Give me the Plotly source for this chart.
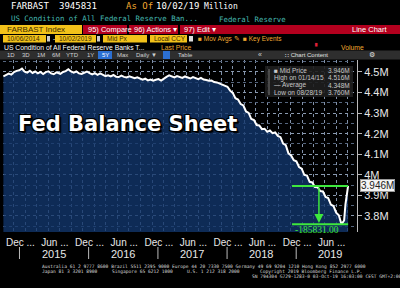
import plotly.graph_objects as go

# ---------------- data (values in "M" = million of $ millions) ----------------
dates = [
    "2014-10-08","2014-10-22","2014-11-05","2014-11-19","2014-12-03","2014-12-17","2014-12-31",
    "2015-01-14","2015-01-28","2015-02-11","2015-02-25","2015-03-11","2015-03-25","2015-04-08",
    "2015-04-22","2015-05-06","2015-05-20","2015-06-03","2015-06-17","2015-07-01","2015-07-15",
    "2015-08-05","2015-08-19","2015-09-02","2015-09-16","2015-09-30","2015-10-14","2015-10-28",
    "2015-11-11","2015-11-25","2015-12-09","2015-12-23","2016-01-06","2016-01-20","2016-02-03",
    "2016-02-17","2016-03-02","2016-03-16","2016-03-30","2016-04-13","2016-04-27","2016-05-11",
    "2016-05-25","2016-06-08","2016-06-22","2016-07-06","2016-07-20","2016-08-03","2016-08-17",
    "2016-08-31","2016-09-14","2016-09-28","2016-10-12","2016-10-26","2016-11-09","2016-11-23",
    "2016-12-07","2016-12-21","2017-01-04","2017-01-18","2017-02-01","2017-02-15","2017-03-01",
    "2017-03-15","2017-03-29","2017-04-12","2017-04-26","2017-05-10","2017-05-24","2017-06-07",
    "2017-06-21","2017-07-05","2017-07-19","2017-08-02","2017-08-16","2017-08-30","2017-09-13",
    "2017-09-27","2017-10-11","2017-10-25","2017-11-08","2017-11-22","2017-12-06","2017-12-20",
    "2018-01-03","2018-01-17","2018-01-31","2018-02-14","2018-02-28","2018-03-14","2018-03-28",
    "2018-04-11","2018-04-25","2018-05-09","2018-05-23","2018-06-06","2018-06-20","2018-07-04",
    "2018-07-18","2018-08-01","2018-08-15","2018-08-29","2018-09-12","2018-09-26","2018-10-10",
    "2018-10-24","2018-11-07","2018-11-21","2018-12-05","2018-12-19","2019-01-02","2019-01-16",
    "2019-01-30","2019-02-13","2019-02-27","2019-03-13","2019-03-27","2019-04-10","2019-04-24",
    "2019-05-08","2019-05-22","2019-06-05","2019-06-19","2019-07-03","2019-07-17","2019-07-31",
    "2019-08-14","2019-08-28","2019-09-11","2019-09-18","2019-09-25","2019-10-02",
]
values = [
    4.478,4.486,4.492,4.487,4.499,4.505,4.508,
    4.516,4.501,4.497,4.506,4.495,4.502,4.493,
    4.500,4.490,4.499,4.503,4.493,4.489,4.498,
    4.491,4.500,4.504,4.513,4.502,4.496,4.502,
    4.493,4.490,4.498,4.502,4.494,4.488,4.494,
    4.486,4.493,4.485,4.480,4.484,4.478,4.485,
    4.477,4.475,4.482,4.476,4.473,4.479,4.474,
    4.470,4.474,4.467,4.462,4.467,4.459,4.463,
    4.457,4.462,4.465,4.458,4.469,4.476,4.483,
    4.477,4.473,4.480,4.475,4.471,4.478,4.472,
    4.468,4.475,4.469,4.465,4.471,4.463,4.461,
    4.457,4.458,4.451,4.449,4.443,4.441,4.434,
    4.428,4.409,4.398,4.372,4.366,4.344,4.337,
    4.308,4.301,4.271,4.266,4.242,4.240,4.222,
    4.224,4.209,4.215,4.202,4.206,4.189,4.183,
    4.152,4.144,4.104,4.094,4.071,4.066,4.038,
    4.030,3.999,3.996,3.966,3.963,3.941,3.940,
    3.921,3.919,3.892,3.887,3.855,3.848,3.816,
    3.803,3.760,3.778,3.856,3.901,3.946,
]

last_raw = 3945831      # $ millions
low_raw = 3760000       # $ millions
last_value = last_raw / 1e6
low_value = low_raw / 1e6

y_ticks = [3.8, 3.9, 4.0, 4.1, 4.2, 4.3, 4.4, 4.5]
y_tick_labels = ["3.8M", "3.9M", "4M", "4.1M", "4.2M", "4.3M", "4.4M", "4.5M"]

month_tick_dates = ["2015-01-06","2015-07-07","2016-01-06","2016-07-07","2017-01-06",
                    "2017-07-07","2018-01-06","2018-07-07","2019-01-06","2019-07-07"]
month_tick_labels = ["Dec ...","Jun ...","Dec ...","Jun ...","Dec ...",
                     "Jun ...","Dec ...","Jun ...","Dec ...","Jun ..."]
year_labels = ["2015", "2016", "2017", "2018", "2019"]
year_centers = ["2015-07-01", "2016-07-01", "2017-07-01", "2018-07-01", "2019-07-01"]
year_bounds = ["2015-01-01", "2016-01-01", "2017-01-01", "2018-01-01", "2019-01-01"]

legend_names = ["\u25a0 Mid Price", "High on 01/14/15", "\u2014 Average", "Low on 08/28/19"]
legend_values = ["3.946M", "4.516M", "4.348M", "3.760M"]

# ---------------- geometry helpers (plot area: x 3..357, y 60..232) ----------------
L, R, T, B = 3, 357, 60, 232
def px(x):
    return (x - L) / (R - L)
def py(y):
    return (B - y) / (B - T)

fig = go.Figure()
fig.add_trace(go.Scatter(
    x=dates, y=values, mode="lines",
    line=dict(color="white", width=2),
    fill="tozeroy", fillcolor="rgba(18,54,108,0.8)",
    hoverinfo="skip", showlegend=False,
))

shapes = []
ann = []

# ---------- green difference annotation ----------
green = "#3ee83e"
shapes.append(dict(type="line", xref="x", yref="y", x0="2018-12-10", x1="2019-10-02",
                   y0=last_value, y1=last_value, line=dict(color=green, width=2)))
shapes.append(dict(type="line", xref="x", yref="y", x0="2018-12-10", x1="2019-10-02",
                   y0=low_value, y1=low_value, line=dict(color=green, width=2)))
ann.append(dict(x="2019-05-01", y=low_value + 0.006, xref="x", yref="y",
                ax="2019-05-01", ay=last_value, axref="x", ayref="y",
                showarrow=True, arrowhead=2, arrowsize=1.2, arrowwidth=1.5,
                arrowcolor=green, text=""))
ann.append(dict(x="2019-04-20", y=low_value, xref="x", yref="y", yanchor="top", yshift=1,
                text=f"-{(last_raw - low_raw):.2f}", showarrow=False,
                font=dict(family="Liberation Serif", size=9.5, color=green)))

# ---------- last value label ----------
ann.append(dict(x=1.0, xref="paper", y=last_value, yref="y", xanchor="left", xshift=3,
                text=f"{last_value:.3f}M", showarrow=False, bgcolor="#f4f4f4",
                bordercolor="#999", borderpad=0,
                font=dict(family="Liberation Sans", size=10, color="#222")))

# ---------- legend box in the chart ----------
shapes.append(dict(type="rect", xref="paper", yref="paper", x0=px(265), x1=px(353),
                   y0=py(97), y1=py(66), fillcolor="rgba(30,30,30,0.9)", line=dict(width=0)))
shapes.append(dict(type="line", xref="paper", yref="paper", x0=px(269), x1=px(269),
                   y0=py(95), y1=py(69), line=dict(color="#777", width=1)))
for i, (n, v) in enumerate(zip(legend_names, legend_values)):
    yy = 70 + i * 7.5
    ann.append(dict(x=px(272), y=py(yy), xref="paper", yref="paper", xanchor="left",
                    yanchor="middle", text=n, showarrow=False,
                    font=dict(family="Liberation Sans", size=6.5, color="#c8c8c8")))
    ann.append(dict(x=px(352), y=py(yy), xref="paper", yref="paper", xanchor="right",
                    yanchor="middle", text=v, showarrow=False,
                    font=dict(family="Liberation Sans", size=6.5, color="#c8c8c8")))

# ---------- big title ----------
ann.append(dict(x=px(16), y=py(124), xref="paper", yref="paper", xanchor="left",
                yanchor="middle", text="<b>Fed Balance Sheet</b>", showarrow=False,
                font=dict(family="DejaVu Sans", size=21, color="white",
                          shadow="1px 1px 0 #000, -1px -1px 0 #000, 1px -1px 0 #000, -1px 1px 0 #000, 2px 2px 1px #000")))

# ---------- x-axis years + separators ----------
for yl, yc in zip(year_labels, year_centers):
    ann.append(dict(x=yc, y=py(254), xref="x", yref="paper", text=yl, showarrow=False,
                    yanchor="middle", font=dict(family="Liberation Sans", size=11, color="#e8e8e8")))
for yb in year_bounds:
    shapes.append(dict(type="line", xref="x", yref="paper", x0=yb, x1=yb,
                       y0=py(247), y1=py(259), line=dict(color="#bbb", width=1)))

# ---------- header ----------
def txt(x, y, s, color="white", size=7, family="Liberation Sans", anchor="left"):
    ann.append(dict(x=px(x), y=py(y), xref="paper", yref="paper", xanchor=anchor,
                    yanchor="middle", text=s, showarrow=False,
                    font=dict(family=family, size=size, color=color)))
def box(x0, x1, y0, y1, color):
    shapes.append(dict(type="rect", xref="paper", yref="paper", x0=px(x0), x1=px(x1),
                       y0=py(y1), y1=py(y0), fillcolor=color, line=dict(width=0), layer="above"))

mono = "DejaVu Sans Mono"
orange = "#f0a830"
teal = "#45b8b0"
yellow = "#f2c21a"
red = "#b3001e"

txt(9, 6.5, "FARBAST", size=9, family=mono)
txt(57, 6.5, "3945831", size=9, family=mono)
txt(124, 6.5, "As Of", orange, size=9, family=mono)
txt(154, 6.5, "10/02/19", size=9, family=mono)
txt(202, 6.5, "Million", size=8, family=mono)
txt(9, 18, "US Condition of All Federal Reserve Ban...", teal, size=7.4, family=mono)
txt(217, 19, "Federal Reserve", teal, size=7.4, family=mono)

box(0, 82, 25, 34, yellow)
txt(5, 29.5, "FARBAST Index", "#3a2a00", size=8)
box(83, 127, 25, 34, red)
txt(86, 29.5, "95) Compare", "white", size=7.5)
box(129, 178, 25, 34, red)
txt(132, 29.5, "96) Actions \u25be", "white", size=7.5)
box(180, 400, 25, 34, red)
txt(182, 29.5, "97) Edit \u25be", "white", size=7.5)
txt(390, 29.5, "Line Chart", "white", size=7.5, anchor="right")

box(3, 46, 35, 42.5, yellow)
txt(5, 38.8, "10/06/2014", "#3a2a00", size=6.5)
box(47, 50, 36, 41.5, "#cccccc")
txt(51.5, 38.8, "-", "white", size=6.5)
box(55, 96, 35, 42.5, yellow)
txt(57, 38.8, "10/02/2019", "#3a2a00", size=6.5)
box(97, 100, 36, 41.5, "#cccccc")
box(103, 147, 35, 42.5, yellow)
txt(105, 38.8, "Mid Px", "#3a2a00", size=6.5)
box(150, 187, 35, 42.5, yellow)
txt(152, 38.8, "Local CCY", "#3a2a00", size=6.5)
box(189, 193, 36, 41.5, "#dddddd")
txt(196, 38.8, "\u25a0 Mov Avgs \u270e", orange, size=6.5)
txt(241, 38.8, "\u25a0 Key Events", orange, size=6.5)

txt(2, 47, "US Condition of All Federal Reserve Banks T...", "white", size=6.8)
txt(159, 47, "Last Price", orange, size=6.8)
txt(312, 46, "\u2598", "#e0203a", size=6)
txt(339, 47, "Volume", orange, size=6.8)

box(0, 400, 50.5, 59.5, "#2e2e2e")
for lab, xx in [("1D", 11), ("3D", 26), ("1M", 41), ("6M", 56), ("YTD", 72), ("1Y", 90),
                ("Max", 122), ("Daily \u25bc", 146), ("Table", 186)]:
    txt(xx, 55, lab, "#d0d0d0", size=6, anchor="center")
box(98, 112, 51, 59, "#2c6fd1")
txt(105, 55, "5Y", "white", size=6, anchor="center")
box(163, 170, 51, 59, "#2c6fd1")
txt(260, 55, "\u00ab", "#d0d0d0", size=7, anchor="center")
txt(306, 55, "\u2237 Chart Content", "#e0e0e0", size=6, anchor="center")
txt(372, 55, "\u2699", "#e0e0e0", size=7, anchor="center")

# ---------- footer ----------
foot = "#d8d8d8"
txt(40, 266.5, "Australia 61 2 9777 8600 Brazil 5511 2395 9000 Europe 44 20 7330 7500 Germany 49 69 9204 1210 Hong Kong 852 2977 6000",
    foot, size=4.6, family=mono)
txt(40, 271.5, "Japan 81 3 3201 8900", foot, size=4.6, family=mono)
txt(110, 271.5, "Singapore 65 6212 1000", foot, size=4.6, family=mono)
txt(185, 271.5, "U.S. 1 212 318 2000", foot, size=4.6, family=mono)
txt(258, 271.5, "Copyright 2019 Bloomberg Finance L.P.", foot, size=4.6, family=mono)
txt(250, 276.5, "SN 794304 G729-1283-0 03-Oct-19 16:03:00 CEST GMT+2:00", foot, size=4.6, family=mono)

fig.update_layout(
    width=400, height=288,
    margin=dict(l=L, r=400 - R, t=T, b=288 - B, pad=0),
    paper_bgcolor="black", plot_bgcolor="black",
    shapes=shapes, annotations=ann,
    showlegend=False,
    xaxis=dict(
        type="date", range=["2014-10-06", "2019-11-18"],
        tickvals=month_tick_dates, ticktext=month_tick_labels,
        showgrid=False, zeroline=False, showline=False, ticks="",
        tickfont=dict(family="Liberation Sans", size=10, color="#e8e8e8"),
        ticklabeloverflow="allow", ticklabelstandoff=3,
        minor=dict(dtick="M2", tick0="2014-12-01", showgrid=True,
                   gridcolor="#8090a8", griddash="dot", gridwidth=1),
    ),
    yaxis=dict(
        side="right", range=[3.722, 4.558],
        tickvals=y_ticks, ticktext=y_tick_labels,
        showgrid=True, gridcolor="#8a9ab0", griddash="dot", gridwidth=1,
        minor=dict(dtick=0.05, tick0=3.75, showgrid=True, gridcolor="#56667e", griddash="dot"),
        zeroline=False, showline=True, linecolor="#bbbbbb", linewidth=1,
        ticks="outside", ticklen=4, tickcolor="#bbbbbb",
        tickfont=dict(family="Liberation Sans", size=11, color="#e8e8e8"),
    ),
)

fig.write_html("out.html")
